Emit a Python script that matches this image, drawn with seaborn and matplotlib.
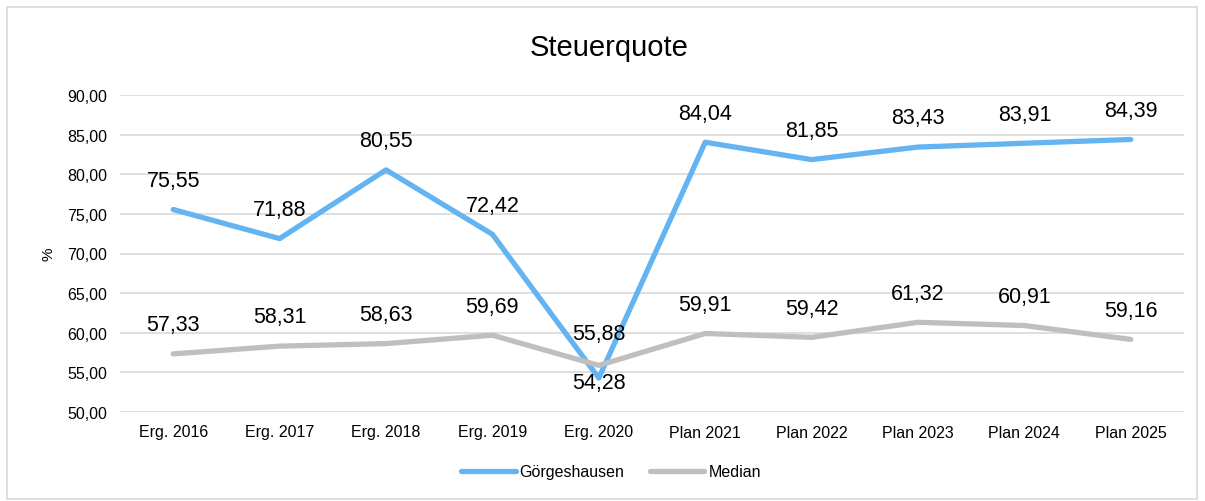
import pandas as pd
import seaborn as sns
import matplotlib.pyplot as plt
from matplotlib.patches import Rectangle

categories = ['Erg. 2016', 'Erg. 2017', 'Erg. 2018', 'Erg. 2019', 'Erg. 2020',
              'Plan 2021', 'Plan 2022', 'Plan 2023', 'Plan 2024', 'Plan 2025']
goergeshausen = [75.55, 71.88, 80.55, 72.42, 54.28, 84.04, 81.85, 83.43, 83.91, 84.39]
median = [57.33, 58.31, 58.63, 59.69, 55.88, 59.91, 59.42, 61.32, 60.91, 59.16]
yticks = [50, 55, 60, 65, 70, 75, 80, 85, 90]

df = pd.DataFrame({'Jahr': categories * 2,
                   'Wert': goergeshausen + median,
                   'Reihe': ['Görgeshausen'] * 10 + ['Median'] * 10})

sns.set_style('white')
plt.rcParams['font.family'] = ['Liberation Sans', 'DejaVu Sans']
plt.rcParams['text.color'] = 'black'
plt.rcParams['xtick.color'] = 'black'
plt.rcParams['ytick.color'] = 'black'
plt.rcParams['axes.labelcolor'] = 'black'

fig = plt.figure(figsize=(12.05, 5.02), dpi=100)
ax = fig.add_axes([120 / 1205, 1 - 413 / 502, (1184 - 120) / 1205, (413 - 96) / 502])

sns.lineplot(data=df, x='Jahr', y='Wert', hue='Reihe', sort=False,
             palette={'Görgeshausen': '#63B4F1', 'Median': '#BFBFBF'},
             linewidth=3.8, ax=ax)

ax.set_xlim(-0.5, len(categories) - 0.5)
ax.set_ylim(50, 90)
ax.set_yticks(yticks)
ax.set_yticklabels([f'{v:.2f}'.replace('.', ',') for v in yticks], fontsize=11.5)
ax.tick_params(axis='x', labelsize=11.5, length=0, pad=9)
ax.tick_params(axis='y', length=0, pad=9.5)
ax.grid(axis='y', color='#D9D9D9', linewidth=1.2)
ax.set_axisbelow(True)
for s in ax.spines.values():
    s.set_visible(False)
ax.set_xlabel('')
ax.set_ylabel('%', fontsize=11, labelpad=8)
fig.text(609 / 1205, 1 - 48 / 502, 'Steuerquote', fontsize=21, ha='center', va='center')

for i, v in enumerate(goergeshausen):
    off = -3 if i == 4 else 21
    ax.annotate(f'{v:.2f}'.replace('.', ','), (i, v), xytext=(0, off),
                textcoords='offset points', ha='center', va='center', fontsize=15.5)
for i, v in enumerate(median):
    off = 23 if i == 4 else 21
    ax.annotate(f'{v:.2f}'.replace('.', ','), (i, v), xytext=(0, off),
                textcoords='offset points', ha='center', va='center', fontsize=15.5)

leg = ax.legend(loc='center', bbox_to_anchor=(611 / 1205, 1 - 473 / 502),
                bbox_transform=fig.transFigure, ncol=2, frameon=False,
                fontsize=11.5, handlelength=3.4, handletextpad=0.25, columnspacing=1.6)

fig.patches.append(Rectangle((7 / 1205, 2 / 502), 1190 / 1205, 492 / 502,
                             transform=fig.transFigure, fill=False,
                             edgecolor='#D9D9D9', linewidth=1.2))

fig.savefig('out.png', dpi=100)
